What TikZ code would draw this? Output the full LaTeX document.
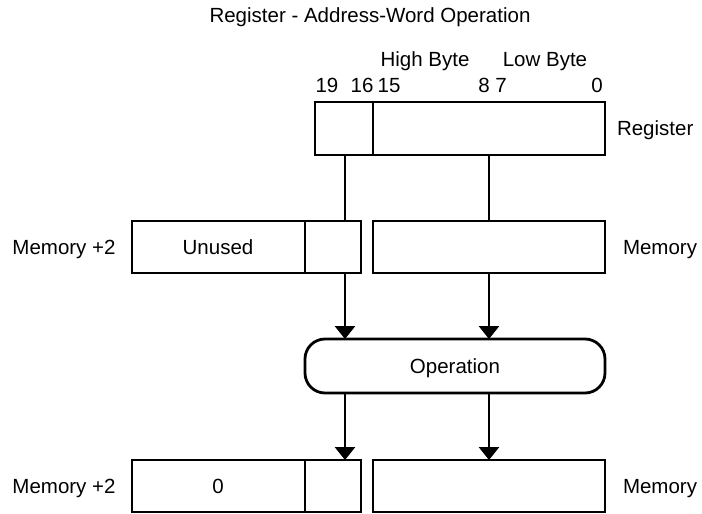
\documentclass[tikz,border=0pt]{standalone}
\usepackage{fontspec}
\setmainfont{Liberation Sans}
\usetikzlibrary{arrows.meta}
\begin{document}
\begin{tikzpicture}[x=1pt,y=-1pt,
  every node/.style={font=\fontsize{20.5}{24}\selectfont, inner sep=0pt, outer sep=0pt},
  cell/.style={draw, line width=2.8pt, rectangle, anchor=north west, minimum height=52pt},
  lbl/.style={anchor=base},
  conn/.style={line width=2.8pt},
  arr/.style={conn, -{Triangle[width=20pt,length=13pt]}}]
\useasboundingbox (0,0) rectangle (702,514);

% title and header texts
\node[lbl] (title) at (370,22) {Register - Address-Word Operation};
\node[lbl] (hb) at (425,66) {High Byte};
\node[lbl] (lb) at (545,66) {Low Byte};
\node[lbl] (b19) at (327,92) {19};
\node[lbl] (b16) at (362,92) {16};
\node[lbl] (b15) at (389,92) {15};
\node[lbl] (b8) at (484,92) {8};
\node[lbl] (b7) at (501,92) {7};
\node[lbl] (b0) at (597,92) {0};

% register
\node[cell, minimum width=58pt, minimum height=53pt] (regA) at (315,102) {};
\node[cell, minimum width=232pt, minimum height=53pt] (regB) at (373,102) {};
\node[anchor=base west] (regL) at (617,135) {Register};

% memory row
\node[cell, minimum width=173pt] (m2A) at (132,221) {};
\node[cell, minimum width=56pt] (m2B) at (305,221) {};
\node[cell, minimum width=232pt] (memA) at (373,221) {};
\node[lbl] (unused) at (218,254) {Unused};
\node[lbl] (m2L) at (64,254) {Memory +2};
\node[anchor=base west] (memL) at (623,254) {Memory};

% operation
\node[draw, line width=2.8pt, rounded corners=20pt, minimum width=300pt, minimum height=54pt] (op) at (455,366) {};
\node[lbl] (opL) at (455,373) {Operation};

% bottom row
\node[cell, minimum width=173pt] (b2A) at (132,460) {};
\node[cell, minimum width=56pt] (b2B) at (305,460) {};
\node[cell, minimum width=232pt] (bmem) at (373,460) {};
\node[lbl] (zero) at (218,493) {0};
\node[lbl] (b2L) at (64,493) {Memory +2};
\node[anchor=base west] (bmemL) at (623,493) {Memory};

% connectors
\coordinate (xl) at (345,0);
\coordinate (xr) at (489,0);
\draw[conn] (regA.south -| xl) -- (m2B.north -| xl);
\draw[conn] (regB.south -| xr) -- (memA.north -| xr);
\draw[arr] (m2B.south -| xl) -- (op.north -| xl);
\draw[arr] (memA.south -| xr) -- (op.north -| xr);
\draw[arr] (op.south -| xl) -- (b2B.north -| xl);
\draw[arr] (op.south -| xr) -- (bmem.north -| xr);
\end{tikzpicture}
\end{document}
